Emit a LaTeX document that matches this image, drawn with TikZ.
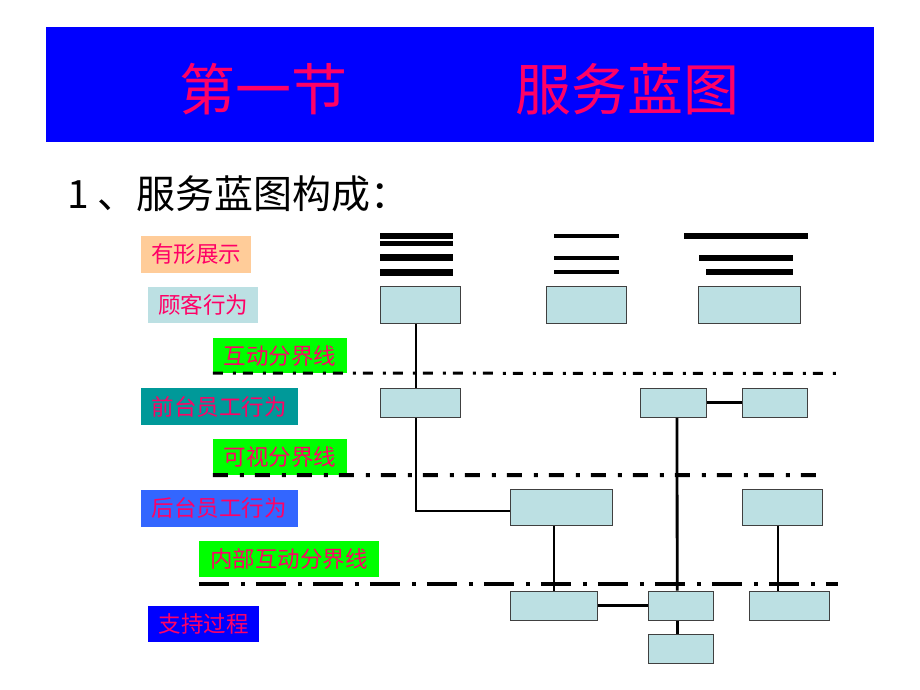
\documentclass[tikz,border=0pt]{standalone}
\usepackage{fontspec}
\newfontfamily\cjk{Noto Sans CJK SC}
\usepackage{tikz}
\usetikzlibrary{calc,positioning}
\definecolor{HeadBlue}{RGB}{0,0,255}
\definecolor{TxtRed}{RGB}{255,0,102}
\definecolor{ActBlue}{RGB}{188,224,227}
\definecolor{EvOrange}{RGB}{255,204,153}
\definecolor{LineGreen}{RGB}{0,255,0}
\definecolor{FrontTeal}{RGB}{0,153,153}
\definecolor{BackBlue}{RGB}{51,102,255}
\tikzset{
  lane/.style={inner sep=0pt,text=TxtRed,font=\cjk\fontsize{22.5}{22.5}\selectfont},
  act/.style={draw=black!75,fill=ActBlue,line width=1pt,inner sep=0pt},
  link/.style={line width=2.8pt},
  iline/.style={line width=3pt,dash pattern=on 10pt off 10pt on 3pt off 7pt},
  vline/.style={line width=4pt,dash pattern=on 15pt off 12pt on 4pt off 11pt},
  nline/.style={line width=4.5pt,dash pattern=on 30pt off 12pt on 4pt off 11pt}
}
\begin{document}
\begin{tikzpicture}[x=1pt,y=-1pt]
\useasboundingbox (0,0) rectangle (920,690);
% header
\fill[HeadBlue] (46,27.3) rectangle (874,142.3);
\node[text=TxtRed,font=\cjk\fontsize{56}{56}\selectfont] (sec) at (263.5,89) {第一节};
\node[text=TxtRed,font=\cjk\fontsize{56}{56}\selectfont] (ttl) at (627,89) {服务蓝图};
\node[anchor=west,font=\cjk\fontsize{39}{39}\selectfont] (sub) at (64,194) {1 、服务蓝图构成：};
% lane labels
\node[lane,fill=EvOrange,minimum width=110pt,minimum height=37pt] (ev) at (196,254.5) {有形展示};
\node[lane,fill=ActBlue,minimum width=110pt,minimum height=36pt] (cu) at (203,305) {顾客行为};
\node[lane,fill=LineGreen,minimum width=134pt,minimum height=35pt] (il) at (280,355.5) {互动分界线};
\node[lane,fill=FrontTeal,minimum width=156.5pt,minimum height=37pt] (fr) at (219.3,406.5) {前台员工行为};
\node[lane,fill=LineGreen,minimum width=134pt,minimum height=36pt] (vl) at (280,457) {可视分界线};
\node[lane,fill=BackBlue,minimum width=156.5pt,minimum height=36.7pt] (bk) at (219.3,508.3) {后台员工行为};
\node[lane,fill=LineGreen,minimum width=180pt,minimum height=36.6pt] (nl) at (289,559) {内部互动分界线};
\node[lane,fill=HeadBlue,minimum width=110.7pt,minimum height=36.6pt] (sp) at (203.7,624) {支持过程};
% boundary lines
\draw[iline] (il.south west) -- (837,373.3);
\draw[vline] (vl.south west) -- (820,475);
\draw[nline] (nl.south west |- 0,584) -- (838,584);
% physical evidence
\fill (380,233.3) rectangle (452.7,239); \fill (380,241) rectangle (452.7,245.7);
\fill (380,254.3) rectangle (452.7,261); \fill (380,269.3) rectangle (452.7,275.7);
\fill (554,234) rectangle (619,238); \fill (554,255.7) rectangle (619,260); \fill (554,270) rectangle (619,274.3);
\fill (684,233.3) rectangle (807.7,239); \fill (699,254.7) rectangle (793,260.7); \fill (706,269.3) rectangle (793,275.3);
% actions
\node[act,minimum width=80pt,minimum height=36.6pt] (c1) at (420,305) {};
\node[act,minimum width=80pt,minimum height=36.6pt] (c2) at (586.7,305) {};
\node[act,minimum width=101.7pt,minimum height=36.6pt] (c3) at (749.8,305) {};
\node[act,minimum width=80pt,minimum height=29pt] (f1) at (420,402.8) {};
\node[act,minimum width=65.7pt,minimum height=29pt] (f2) at (673.8,402.8) {};
\node[act,minimum width=65.4pt,minimum height=29pt] (f3) at (775,402.8) {};
\node[act,minimum width=101.6pt,minimum height=36.7pt] (b1) at (561.5,507.6) {};
\node[act,minimum width=80pt,minimum height=36.7pt] (b2) at (782.3,507.6) {};
\node[act,minimum width=86.6pt,minimum height=29.3pt] (s1) at (554,605.7) {};
\node[act,minimum width=65pt,minimum height=29.3pt] (s2) at (680.8,605.7) {};
\node[act,minimum width=80pt,minimum height=29.3pt] (s3) at (789.3,605.7) {};
\node[act,minimum width=65pt,minimum height=29pt] (s4) at (680.8,648.8) {};
% connectors
\draw[link] ([xshift=-4pt]c1.south) -- ([xshift=-4pt]f1.north);
\draw[link] ([xshift=-4pt]f1.south) |- ([yshift=-3.4pt]b1.west);
\draw[link] (f2.east) -- (f3.west);
\draw[link] ([xshift=3.2pt]f2.south) -- ([xshift=-3.6pt]s2.north);
\draw[link] (s2.south) ++(-3.6pt,0) -- ([xshift=-3.6pt]s4.north);
\draw[link] (b1.south -| s1.north) -- (s1.north);
\draw[link] (s1.east) -- (s2.west);
\draw[link] ([xshift=-4.3pt]b2.south) -- ([xshift=-4.3pt]b2.south |- s3.north);
\end{tikzpicture}
\end{document}
